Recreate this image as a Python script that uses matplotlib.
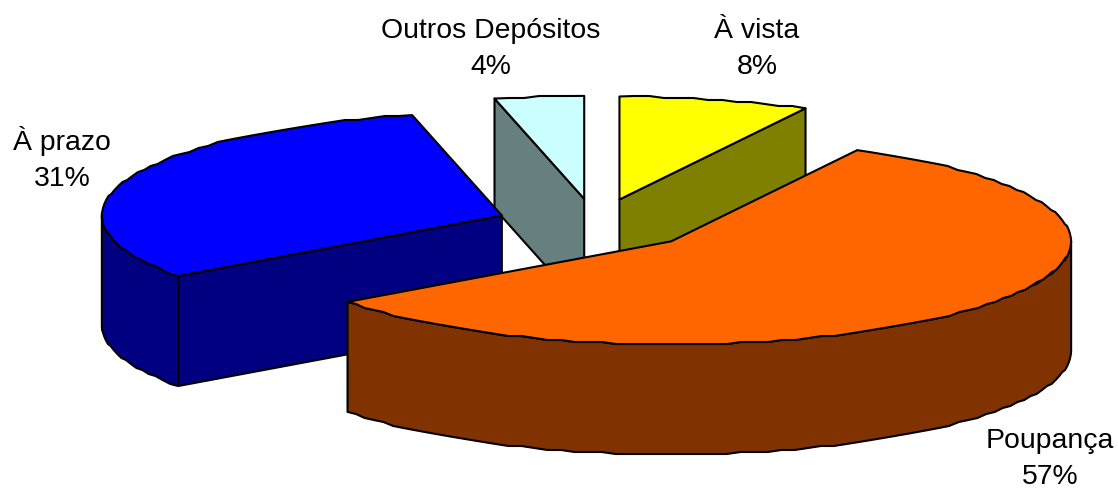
"""Exploded pseudo 3D pie chart of deposits."""
import numpy as np
import matplotlib
matplotlib.use('Agg')
import matplotlib.pyplot as plt
from matplotlib.patches import Polygon

labels = ['À vista', 'Poupança', 'À prazo', 'Outros Depósitos']
shares = [7.7, 57.3, 31.4, 3.6]
share_labels = ['8%', '57%', '31%', '4%']

top_colors = ['#FFFF00', '#FF6600', '#0000FF', '#CCFFFF']
side_colors = ['#808000', '#803300', '#000080', '#668080']

# layout of the pie, in pixels
CENTER = (595.5, 224.5)
RX, RY = 400, 103
DEPTH = 110
EXPLODE = 0.25
GRID = 2  # the rim of the original is stepped
label_pos = [(757, 49), (1050, 459), (62, 159), (491, 49)]

plt.rcParams['font.family'] = 'Liberation Sans'
fig = plt.figure(figsize=(11.18, 4.88), dpi=100)
ax = fig.add_axes([0, 0, 1, 1])
ax.set_xlim(0, 1118)
ax.set_ylim(488, 0)
ax.axis('off')


def rim(cx, cy, start, end):
    """Points on the ellipse, angles run clockwise from the top."""
    n = max(int((end - start) / 2), 1) + 1
    t = np.radians(np.linspace(start, end, n))
    x = cx + RX * np.sin(t)
    y = cy - RY * np.cos(t)
    inner = np.round(y[1:-1] / GRID) * GRID
    y = np.concatenate([y[:1], inner, y[-1:]]) if n > 1 else y
    return np.column_stack([x, y])


def add_poly(points, color):
    ax.add_patch(Polygon(points, closed=True, facecolor=color, edgecolor='black',
                         linewidth=1.5, joinstyle='round'))


def draw_slice(i, start, end):
    mid = np.radians((start + end) / 2)
    cx = CENTER[0] + EXPLODE * RX * np.sin(mid)
    cy = CENTER[1] - EXPLODE * RY * np.cos(mid)
    down = np.array([0, DEPTH])
    apex = np.array([cx, cy])

    # flat walls, only the ones that face the viewer
    for angle, visible in [(start, np.sin(np.radians(start)) < -1e-6),
                           (end, np.sin(np.radians(end)) > 1e-6)]:
        if visible:
            p = rim(cx, cy, angle, angle)[0]
            add_poly([apex, p, p + down, apex + down], side_colors[i])

    # outer wall, front half of the ellipse only
    lo, hi = max(start, 90), min(end, 270)
    if lo < hi:
        arc = rim(cx, cy, lo, hi)
        add_poly(np.vstack([arc, arc[::-1] + down]), side_colors[i])

    add_poly(np.vstack([apex, rim(cx, cy, start, end)]), top_colors[i])


stops = np.concatenate([[0], np.cumsum(shares) * 3.6])

# back slices first so the front ones cover them
for i in [3, 0, 2, 1]:
    draw_slice(i, stops[i], stops[i + 1])

for i in range(len(labels)):
    ax.text(label_pos[i][0], label_pos[i][1], f'{labels[i]}\n{share_labels[i]}',
            ha='center', va='center', fontsize=20.4, color='black', linespacing=1.5)

fig.savefig('out.png', dpi=100)
